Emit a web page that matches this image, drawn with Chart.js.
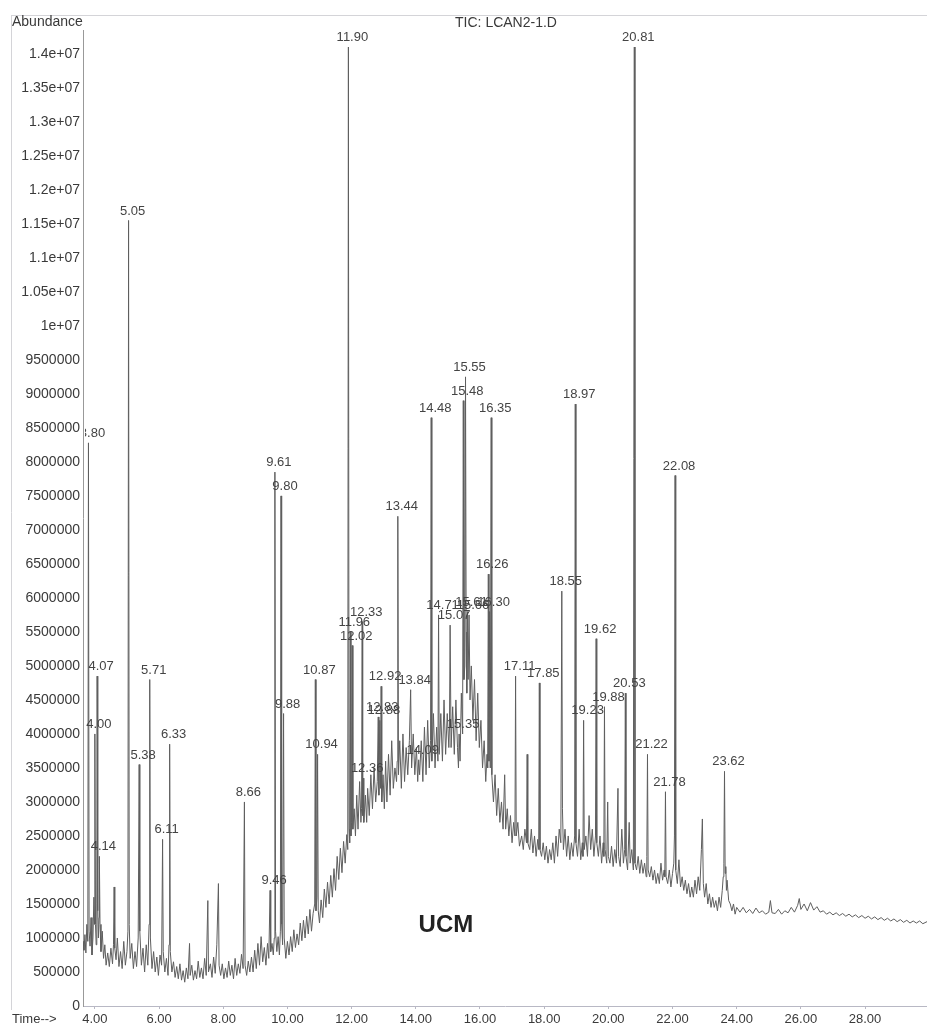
<!DOCTYPE html>
<html>
<head>
<meta charset="utf-8">
<script src="https://cdn.jsdelivr.net/npm/chart.js@4/dist/chart.umd.min.js"></script>
<style>
  body { margin: 0; background: #fff; }
  canvas { display: block; }
</style>
</head>
<body>
<canvas id="tic" width="927" height="1026"></canvas>
<script>
// TIC trace, [time (min), abundance (millions)]
const traceEarly = [
  [3.63,0.95],[3.66,0.82],[3.69,1.05],[3.72,0.78],[3.75,1.2],[3.78,0.95],[3.80,8.28],[3.82,1.1],[3.85,0.88],[3.88,1.3],
  [3.91,0.75],[3.94,1.0],[3.97,1.6],[3.99,1.2],[4.00,4.0],[4.02,1.2],[4.04,0.9],[4.06,1.5],[4.07,4.85],[4.09,1.4],
  [4.11,1.0],[4.13,1.3],[4.14,2.2],[4.16,1.2],[4.19,0.8],[4.23,1.1],[4.27,0.7],[4.31,0.9],[4.35,0.6],[4.40,0.78],
  [4.45,0.58],[4.50,0.85],[4.55,0.62],[4.58,0.9],[4.60,1.75],[4.62,0.85],[4.66,0.68],[4.70,1.0],[4.75,0.58],[4.80,0.8],
  [4.85,0.55],[4.90,0.95],[4.95,0.6],[5.00,0.8],[5.03,1.1],[5.05,11.55],[5.07,1.2],[5.10,0.7],[5.15,0.92],[5.20,0.55],
  [5.25,0.8],[5.30,0.58],[5.35,1.0],[5.38,3.55],[5.40,1.1],[5.45,0.6],[5.50,0.85],[5.55,0.5],[5.60,0.9],[5.65,0.6],
  [5.69,1.2],[5.71,4.8],[5.73,1.0],[5.78,0.55],[5.83,0.8],[5.88,0.5],[5.93,0.72],[5.98,0.45],[6.03,0.75],[6.08,0.6],
  [6.11,2.45],[6.13,0.8],[6.18,0.5],[6.23,0.7],[6.28,0.45],[6.31,0.9],[6.33,3.85],[6.35,0.8],[6.40,0.5],[6.45,0.65]
];
const traceLowBase = [
  [6.50,0.42],[6.55,0.58],[6.60,0.4],[6.65,0.62],[6.70,0.38],[6.75,0.52],[6.80,0.35],[6.85,0.56],[6.90,0.4],[6.95,0.92],
  [6.97,0.45],[7.02,0.6],[7.07,0.38],[7.12,0.52],[7.17,0.4],[7.22,0.66],[7.27,0.42],[7.32,0.56],[7.37,0.4],[7.42,0.7],
  [7.47,0.45],[7.52,1.55],[7.54,0.5],[7.60,0.62],[7.65,0.42],[7.70,0.72],[7.75,0.48],[7.80,0.9],[7.85,1.8],[7.87,0.6],
  [7.92,0.45],[7.97,0.62],[8.02,0.4],[8.07,0.56],[8.12,0.42],[8.17,0.66],[8.22,0.45],[8.27,0.6],[8.32,0.4],[8.37,0.7],
  [8.42,0.45],[8.47,0.62],[8.52,0.48],[8.57,0.76],[8.62,0.55],[8.66,3.0],[8.68,0.6],[8.73,0.45],[8.78,0.66],[8.83,0.5],
  [8.88,0.72],[8.93,0.5],[8.98,0.82],[9.03,0.55],[9.08,0.92],[9.13,0.6],[9.18,1.02],[9.23,0.65],[9.28,0.86],[9.33,0.6],
  [9.38,0.92],[9.42,0.7],[9.46,1.7],[9.48,0.8],[9.52,0.92],[9.56,0.75],[9.59,1.0],[9.61,7.85],[9.63,1.1],[9.67,0.8],
  [9.71,1.02],[9.75,0.75],[9.78,1.1],[9.80,7.5],[9.82,1.2],[9.85,0.9],[9.88,4.3],[9.90,1.0],[9.95,0.7]
];
const traceRise = [
  [10.00,0.95],[10.05,0.75],[10.10,1.02],[10.15,0.8],[10.20,1.12],[10.25,0.86],[10.30,1.06],[10.35,0.9],[10.40,1.22],[10.45,0.96],
  [10.50,1.26],[10.55,1.0],[10.60,1.32],[10.65,1.06],[10.70,1.42],[10.75,1.1],[10.80,1.36],[10.85,1.5],[10.87,4.8],[10.89,1.4],
  [10.92,1.6],[10.94,3.7],[10.96,1.4],[11.00,1.22],[11.05,1.56],[11.10,1.3],[11.15,1.72],[11.20,1.45],[11.25,1.82],[11.30,1.5],
  [11.35,1.92],[11.40,1.6],[11.45,2.02],[11.50,1.7],[11.55,2.2],[11.60,1.86],[11.65,2.32],[11.70,1.96],[11.75,2.42],[11.80,2.1],
  [11.85,2.52],[11.88,2.3],[11.90,14.1],[11.92,2.6],[11.94,2.4],[11.96,5.5],[11.98,2.5],[12.00,2.7],[12.02,5.3],[12.04,2.6],
  [12.08,2.9],[12.12,2.5],[12.16,3.1],[12.20,2.6],[12.25,3.3],[12.29,2.7],[12.31,2.9],[12.33,5.65],[12.345,2.8],[12.36,3.35],
  [12.38,2.7],[12.43,3.1],[12.47,2.7]
];
const traceHump = [
  [12.50,3.2],[12.55,2.8],[12.60,3.4],[12.65,2.9],[12.70,3.5],[12.75,3.0],[12.80,3.3],[12.83,4.25],[12.85,3.1],[12.88,4.2],
  [12.90,3.2],[12.92,4.7],[12.94,3.0],[12.98,3.4],[13.02,2.9],[13.06,3.6],[13.10,3.0],[13.15,3.7],[13.20,3.1],[13.25,3.9],
  [13.30,3.2],[13.35,3.5],[13.40,3.3],[13.42,3.6],[13.44,7.2],[13.46,3.4],[13.50,3.9],[13.55,3.2],[13.60,4.0],[13.65,3.3],
  [13.70,3.8],[13.75,3.4],[13.80,3.9],[13.84,4.65],[13.87,3.5],[13.92,4.0],[13.97,3.4],[14.02,3.8],[14.06,3.3],[14.09,3.62],
  [14.12,3.4],[14.17,3.9],[14.22,3.3],[14.27,4.1],[14.32,3.4],[14.37,4.2],[14.42,3.5],[14.46,3.9],[14.48,8.65],[14.50,3.6],
  [14.55,4.3],[14.60,3.5],[14.65,4.1],[14.69,3.6],[14.71,5.75],[14.73,3.7],[14.78,4.3],[14.83,3.6],[14.88,4.5],[14.93,3.7],
  [14.98,4.3],[15.03,3.8],[15.05,4.1],[15.07,5.6],[15.10,3.8],[15.15,4.4],[15.20,3.7],[15.25,4.5],[15.30,3.8],[15.33,3.5],
  [15.35,4.0],[15.38,3.6],[15.42,4.6],[15.46,4.0],[15.48,8.9],[15.50,4.8],[15.53,5.0],[15.55,9.25],[15.57,5.5],[15.59,4.6],
  [15.61,5.8],[15.63,4.8],[15.66,5.75],[15.69,4.5],[15.73,5.0],[15.78,4.2],[15.83,4.8],[15.88,3.9],[15.93,4.6],[15.98,3.8],
  [16.03,4.2],[16.08,3.5],[16.13,3.9],[16.18,3.3],[16.22,3.7],[16.24,3.5],[16.26,6.35],[16.28,3.6],[16.30,5.8],[16.32,3.5],
  [16.35,8.65],[16.37,3.4],[16.42,3.0],[16.47,3.4]
];
const traceShoulder = [
  [16.52,2.8],[16.57,3.2],[16.62,2.7],[16.67,3.0],[16.72,2.6],[16.77,3.4],[16.80,2.6],[16.85,2.9],[16.90,2.5],[16.95,2.8],
  [17.00,2.4],[17.05,2.7],[17.09,2.5],[17.11,4.85],[17.13,2.5],[17.18,2.7],[17.23,2.35],[17.30,2.5],[17.35,2.3],[17.40,2.6],
  [17.45,2.4],[17.47,3.7],[17.49,2.4],[17.55,2.3],[17.60,2.6],[17.65,2.25],[17.70,2.5],[17.75,2.2],[17.80,2.45],[17.83,2.3],
  [17.85,4.75],[17.87,2.3],[17.92,2.2],[17.97,2.4],[18.02,2.15],[18.07,2.35],[18.12,2.1],[18.17,2.3],[18.22,2.15],[18.27,2.4],
  [18.32,2.1],[18.37,2.5],[18.42,2.2],[18.47,2.6],[18.52,2.4],[18.55,6.1],[18.57,2.9],[18.60,2.3],[18.65,2.6],[18.70,2.2],
  [18.75,2.5],[18.80,2.15],[18.85,2.4],[18.90,2.2],[18.95,2.5],[18.97,8.85],[18.99,2.4],[19.04,2.2],[19.09,2.6],[19.14,2.15],
  [19.19,2.4],[19.21,2.2],[19.23,4.2],[19.25,2.3],[19.30,2.5],[19.35,2.2],[19.40,2.8],[19.45,2.3],[19.50,2.6],[19.55,2.2],
  [19.60,2.5],[19.62,5.4],[19.64,2.4],[19.69,2.2],[19.74,2.5],[19.79,2.1],[19.84,2.4],[19.86,2.2],[19.88,4.4],[19.90,2.3],
  [19.95,2.1],[19.98,3.0],[20.00,2.2],[20.05,2.1],[20.10,2.35],[20.15,2.05],[20.20,2.3],[20.25,2.1],[20.30,3.2],[20.32,2.2],
  [20.37,2.05],[20.42,2.6],[20.47,2.1],[20.51,2.3],[20.53,4.6],[20.55,2.2],[20.60,2.0],[20.65,2.7],[20.68,2.1],[20.73,2.3],
  [20.78,2.0],[20.81,14.1],[20.83,2.1],[20.88,2.0],[20.93,2.2],[20.98,1.95]
];
const traceTail = [
  [21.03,2.15],[21.08,1.95],[21.13,2.1],[21.18,1.9],[21.20,2.2],[21.22,3.7],[21.24,2.0],[21.29,1.9],[21.34,2.05],[21.39,1.85],
  [21.44,2.0],[21.49,1.8],[21.54,1.95],[21.59,1.8],[21.64,2.1],[21.69,1.85],[21.74,2.0],[21.76,1.9],[21.78,3.15],[21.80,1.9],
  [21.85,1.8],[21.90,2.0],[21.95,1.75],[22.00,1.95],[22.04,2.1],[22.06,2.5],[22.08,7.8],[22.10,2.0],[22.15,1.8],[22.20,2.15],
  [22.25,1.75],[22.30,1.9],[22.35,1.7],[22.40,1.85],[22.45,1.65],[22.50,1.8],[22.55,1.6],[22.60,1.75],[22.65,1.6],[22.70,1.85],
  [22.75,1.65],[22.80,1.9],[22.85,1.7],[22.90,2.3],[22.93,2.75],[22.96,1.8],[23.00,1.6],[23.05,1.8],[23.10,1.5],[23.15,1.65],
  [23.20,1.45],[23.25,1.6],[23.30,1.45],[23.35,1.55],[23.40,1.4],[23.45,1.6],[23.50,1.45],[23.55,1.7],[23.58,1.9],[23.60,2.1],
  [23.62,3.45],[23.64,1.95],[23.66,2.05],[23.68,1.7],[23.70,1.85],[23.75,1.55],[23.80,1.5],[23.85,1.4],[23.90,1.5],[23.95,1.35],
  [24.00,1.45],[24.10,1.38],[24.20,1.45],[24.30,1.37],[24.40,1.42],[24.50,1.36],[24.60,1.44],[24.70,1.37],[24.80,1.4],[24.90,1.35],
  [25.00,1.38],[25.05,1.55],[25.10,1.37],[25.20,1.36],[25.30,1.42],[25.40,1.35],[25.50,1.4],[25.60,1.37],[25.70,1.45],[25.80,1.38],
  [25.90,1.48],[25.95,1.58],[26.00,1.42],[26.10,1.5],[26.20,1.4],[26.30,1.52],[26.40,1.41],[26.50,1.46],[26.60,1.38],[26.70,1.4],
  [26.80,1.35],[26.90,1.38],[27.00,1.34],[27.10,1.37],[27.20,1.33],[27.30,1.36],[27.40,1.32],[27.50,1.35],[27.60,1.31],[27.70,1.34],
  [27.80,1.3],[27.90,1.33],[28.00,1.29],[28.10,1.32],[28.20,1.28],[28.30,1.31],[28.40,1.27],[28.50,1.3],[28.60,1.26],[28.70,1.29],
  [28.80,1.25],[28.90,1.28],[29.00,1.24],[29.10,1.27],[29.20,1.23],[29.30,1.26],[29.40,1.22],[29.50,1.25],[29.60,1.22],[29.70,1.25],
  [29.80,1.21],[29.93,1.24]
];

// retention times printed over the peaks
const peakTimes = [
  3.80, 4.00, 4.07, 4.14, 5.05, 5.38, 5.71, 6.11, 6.33, 8.66, 9.46, 9.61, 9.80, 9.88,
  10.87, 10.94, 11.90, 11.96, 12.02, 12.33, 12.36, 12.83, 12.88, 12.92, 13.44, 13.84,
  14.09, 14.48, 14.71, 15.07, 15.35, 15.48, 15.55, 15.61, 15.66, 16.26, 16.30, 16.35,
  17.11, 17.85, 18.55, 18.97, 19.23, 19.62, 19.88, 20.53, 20.81, 21.22, 21.78, 22.08, 23.62
];

const xTickValues = [4, 6, 8, 10, 12, 14, 16, 18, 20, 22, 24, 26, 28];
const yTickValues = [0, 500000, 1000000, 1500000, 2000000, 2500000, 3000000, 3500000, 4000000,
  4500000, 5000000, 5500000, 6000000, 6500000, 7000000, 7500000, 8000000, 8500000, 9000000,
  9500000, 10000000, 10500000, 11000000, 11500000, 12000000, 12500000, 13000000, 13500000, 14000000];

const points = [].concat(traceEarly, traceLowBase, traceRise, traceHump, traceShoulder, traceTail)
  .map(([t, v]) => ({ x: t, y: v * 1e6 }));

const FONT = '"Liberation Sans", Arial, sans-serif';

// texte, cadre et étiquettes des pics
const overlay = {
  id: 'overlay',
  beforeDraw(chart) {
    const ctx = chart.ctx;
    ctx.save();
    ctx.strokeStyle = '#d4d4d8';
    ctx.lineWidth = 1;
    ctx.beginPath();
    ctx.moveTo(12, 15.5); ctx.lineTo(927, 15.5);
    ctx.moveTo(11.5, 15); ctx.lineTo(11.5, 1010);
    ctx.stroke();
    ctx.restore();
  },
  afterDatasetsDraw(chart) {
    const ctx = chart.ctx;
    const xs = chart.scales.x, ys = chart.scales.y;
    const area = chart.chartArea;
    ctx.save();
    ctx.fillStyle = '#3a3a3a';
    ctx.font = '14px ' + FONT;
    ctx.textBaseline = 'middle';
    ctx.textAlign = 'left';
    ctx.fillText('Abundance', 12, 22);
    ctx.font = '13px ' + FONT;
    ctx.fillText('Time-->', 12, 1019);
    ctx.font = '14px ' + FONT;
    ctx.textAlign = 'center';
    ctx.fillText('TIC: LCAN2-1.D', 506, 23);

    ctx.font = 'bold 24px ' + FONT;
    ctx.fillStyle = '#222';
    ctx.fillText('UCM', xs.getPixelForValue(14.94), ys.getPixelForValue(1.19e6));

    // labels clipped to the plot area like the original print
    ctx.beginPath();
    ctx.rect(area.left + 2, 0, area.right - area.left, area.bottom);
    ctx.clip();
    ctx.font = '13px ' + FONT;
    ctx.fillStyle = '#444';
    ctx.textBaseline = 'bottom';
    peakTimes.forEach(t => {
      let best = points[0];
      points.forEach(p => { if (Math.abs(p.x - t) < Math.abs(best.x - t)) best = p; });
      ctx.fillText(t.toFixed(2), xs.getPixelForValue(t) + 4, ys.getPixelForValue(best.y) - 3);
    });
    ctx.restore();
  }
};

new Chart(document.getElementById('tic'), {
  type: 'line',
  data: {
    datasets: [{
      data: points,
      borderColor: '#5e5e5e',
      borderWidth: 1,
      pointRadius: 0,
      tension: 0,
      fill: false
    }]
  },
  options: {
    responsive: false,
    animation: false,
    devicePixelRatio: 1,
    layout: { padding: { top: 30, left: 0, right: 0, bottom: 0 } },
    plugins: { legend: { display: false }, tooltip: { enabled: false } },
    scales: {
      x: {
        type: 'linear',
        min: 3.63,
        max: 29.93,
        afterBuildTicks: scale => { scale.ticks = xTickValues.map(v => ({ value: v })); },
        afterFit: scale => { scale.height = 20; },
        grid: { drawOnChartArea: false, drawTicks: true, tickLength: 3, color: '#b8b8c4' },
        border: { color: '#b8b8c4' },
        ticks: {
          autoSkip: false, maxRotation: 0, padding: 3,
          color: '#3a3a3a', font: { family: FONT, size: 13 },
          callback: v => v.toFixed(2)
        }
      },
      y: {
        type: 'linear',
        min: 0,
        max: 14350000,
        afterBuildTicks: scale => { scale.ticks = yTickValues.map(v => ({ value: v })); },
        afterFit: scale => { scale.width = 83; },
        grid: { display: false, drawTicks: false },
        border: { color: '#999' },
        ticks: {
          padding: 3,
          color: '#3a3a3a', font: { family: FONT, size: 14 },
          callback: v => v >= 1e7 ? (v / 1e7) + 'e+07' : String(v)
        }
      }
    }
  },
  plugins: [overlay]
});
</script>
</body>
</html>
